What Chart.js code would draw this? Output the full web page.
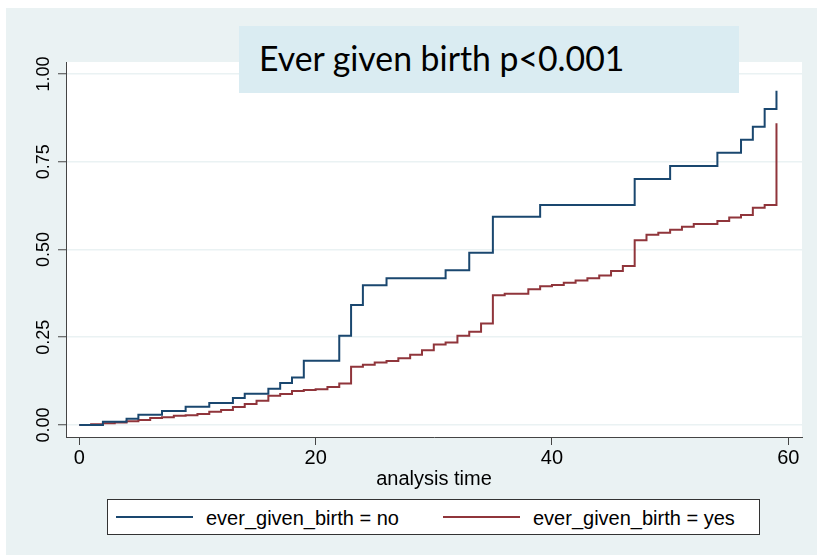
<!DOCTYPE html>
<html>
<head>
<meta charset="utf-8">
<script src="https://cdn.jsdelivr.net/npm/chart.js@4/dist/chart.umd.min.js"></script>
<style>
  body { margin: 0; background: #fff; }
  #wrap { position: relative; width: 817px; height: 555px; overflow: hidden; }
  #panel { position: absolute; left: 6px; top: 8px; width: 811px; height: 547px; background: #eaf2f3; }
  canvas { position: absolute; left: 0; top: 0; }
  #title { position: absolute; left: 239px; top: 26px; width: 500px; height: 67px; background: #daecf2; }
  #titleText { position: absolute; left: 20px; top: 9.5px; font-family: Lato, "Open Sans", sans-serif; font-size: 35px;
               line-height: 42px; white-space: nowrap; color: #000; transform-origin: 0 0; }
  #legend { position: absolute; left: 107px; top: 499px; width: 653px; height: 36px; box-sizing: border-box;
            border: 1px solid #333; background: #fff; }
  .ln { position: absolute; top: 16px; width: 77px; height: 2px; }
  .lt { position: absolute; top: 8px; font-family: "Liberation Sans", Arial, sans-serif; font-size: 20px;
        line-height: 20px; white-space: nowrap; color: #000; }
</style>
</head>
<body>
<div id="wrap">
  <div id="panel"></div>
  <canvas id="c" width="817" height="555"></canvas>
  <div id="title"><span id="titleText"></span></div>
  <div id="legend">
    <div class="ln" id="ln0" style="left:8px"></div>
    <span class="lt" id="lt0" style="left:98px"></span>
    <div class="ln" id="ln1" style="left:335px"></div>
    <span class="lt" id="lt1" style="left:425px"></span>
  </div>
</div>
<script>
// ---- data ----
const chartTitle = 'Ever given birth p<0.001';
const xAxisTitle = 'analysis time';
const seriesNames = ['ever_given_birth = no', 'ever_given_birth = yes'];
const seriesColors = ['#1a476f', '#90353b'];

const xTicks = [0, 20, 40, 60];
const xTickLabels = ['0', '20', '40', '60'];
const yTicks = [0, 0.25, 0.5, 0.75, 1];
const yTickLabels = ['0.00', '0.25', '0.50', '0.75', '1.00'];

const noTimes = [0, 2, 4, 5, 7, 9, 11, 13, 14, 16, 17, 18, 19, 22, 23, 24, 26, 31, 33, 35, 39, 47, 50, 54, 56, 57, 58, 59];
const noFailure = [0, 0.009, 0.018, 0.029, 0.040, 0.052, 0.063, 0.077, 0.089, 0.103, 0.120, 0.135, 0.183, 0.254,
                   0.342, 0.398, 0.418, 0.441, 0.491, 0.593, 0.627, 0.701, 0.738, 0.776, 0.813, 0.850, 0.900, 0.952];

const yesTimes = [0, 1, 2, 3, 4, 5, 6, 7, 8, 9, 10, 11, 12, 13, 14, 15, 16, 17, 18, 19, 20, 21, 22, 23, 24, 25, 26, 27,
                  28, 29, 30, 31, 32, 33, 34, 35, 36, 38, 39, 40, 41, 42, 43, 44, 45, 46, 47, 48, 49, 50, 51, 52, 54,
                  55, 56, 57, 58, 59];
const yesFailure = [0, 0.002, 0.005, 0.007, 0.011, 0.014, 0.020, 0.022, 0.026, 0.028, 0.031, 0.038, 0.043, 0.051,
                    0.060, 0.069, 0.083, 0.088, 0.097, 0.100, 0.102, 0.108, 0.118, 0.166, 0.172, 0.178, 0.182, 0.190,
                    0.200, 0.213, 0.229, 0.235, 0.254, 0.266, 0.289, 0.370, 0.374, 0.387, 0.395, 0.399, 0.405, 0.412,
                    0.418, 0.426, 0.439, 0.453, 0.526, 0.542, 0.548, 0.556, 0.565, 0.573, 0.581, 0.591, 0.598, 0.619,
                    0.627, 0.860];

// ---- title & legend text ----
const tt = document.getElementById('titleText');
tt.textContent = chartTitle;
(function fitTitle() {
  const m = document.createElement('canvas').getContext('2d');
  m.font = '35px Lato';
  const w = m.measureText(chartTitle).width;
  if (w > 0) tt.style.transform = 'scaleX(' + (366 / w) + ')';
})();
for (let i = 0; i < 2; i++) {
  document.getElementById('ln' + i).style.background = seriesColors[i];
  document.getElementById('lt' + i).textContent = seriesNames[i];
}

// ---- chart ----
const tickFont = { family: 'Liberation Sans, Arial, sans-serif', size: 20 };
const axisColor = '#444';

new Chart(document.getElementById('c'), {
  type: 'line',
  data: {
    datasets: [
      { label: seriesNames[0], data: noTimes.map((t, i) => ({ x: t, y: noFailure[i] })),
        borderColor: seriesColors[0], borderWidth: 2, pointRadius: 0, stepped: true, fill: false },
      { label: seriesNames[1], data: yesTimes.map((t, i) => ({ x: t, y: yesFailure[i] })),
        borderColor: seriesColors[1], borderWidth: 2, pointRadius: 0, stepped: true, fill: false }
    ]
  },
  options: {
    responsive: false,
    animation: false,
    devicePixelRatio: 1,
    layout: { padding: { top: 62, right: 15, left: 0, bottom: 0 } },
    plugins: { legend: { display: false }, title: { display: false }, tooltip: { enabled: false } },
    scales: {
      x: {
        type: 'linear', min: -1.125, max: 61.16,
        afterBuildTicks: s => { s.ticks = xTicks.map(v => ({ value: v })); },
        afterFit: s => { s.height = 118; },
        grid: { drawOnChartArea: false, tickLength: 8, tickColor: axisColor, tickWidth: 1 },
        border: { color: axisColor, width: 1 },
        ticks: { font: tickFont, color: '#000', padding: 1, minRotation: 0, maxRotation: 0, autoSkip: false,
                 callback: (v, i) => xTickLabels[i] },
        title: { display: true, text: xAxisTitle, font: tickFont, color: '#000', padding: { top: 0, bottom: 64 } }
      },
      y: {
        type: 'linear', min: -0.0342, max: 1.0342,
        afterBuildTicks: s => { s.ticks = yTicks.map(v => ({ value: v })); },
        afterFit: s => { s.width = 66; },
        grid: { color: '#eaf2f3', lineWidth: 1.5, tickLength: 8, tickColor: axisColor, tickWidth: 1 },
        border: { color: axisColor, width: 1 },
        ticks: { font: { family: 'Liberation Sans, Arial, sans-serif', size: 18 }, color: '#000',
                 minRotation: 90, maxRotation: 90, crossAlign: 'center', padding: -4, autoSkip: false,
                 callback: (v, i) => yTickLabels[i] }
      }
    }
  },
  plugins: [{
    id: 'plotBg',
    beforeDraw(chart) {
      const { ctx, chartArea: a } = chart;
      ctx.save();
      ctx.fillStyle = '#fff';
      ctx.fillRect(a.left, a.top, a.right - a.left, a.bottom - a.top);
      ctx.restore();
    }
  }]
});
</script>
</body>
</html>
